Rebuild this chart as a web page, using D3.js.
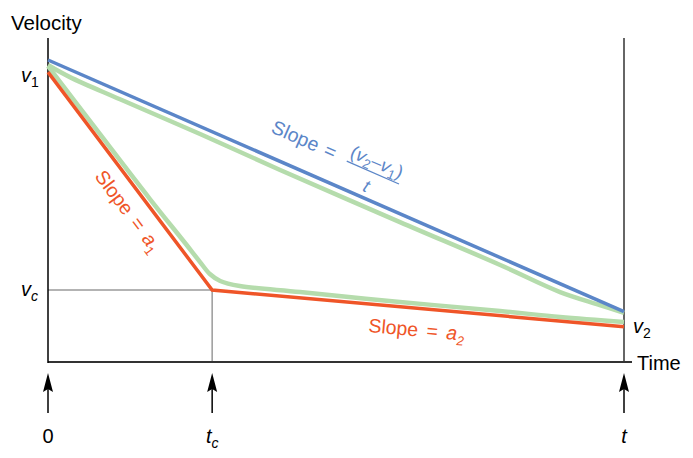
<!DOCTYPE html>
<html><head><meta charset="utf-8">
<script src="https://cdn.jsdelivr.net/npm/d3@7"></script>
<style>body{margin:0;background:#fff}svg{display:block}text{font-family:"Liberation Sans",Arial,sans-serif}</style>
</head><body><svg id="c" width="693" height="458"></svg>
<script>
// ---- data (time in arbitrary units 0..10, velocity 0..30) ----
const timeMarks = [0, 2.85, 10];            // 0, t_c, t
const timeLabels = ["0", "t_c", "t"];
const blueT = [0, 10];
const blueV = [30, 5.0];                    // v1 -> v2 (average slope)
const redT = [0, 2.85, 10];
const redV = [28.8, 7.15, 3.5];             // slope a1 then slope a2
const greenUpperT = [0, 0.38, 1.25, 2.64, 4.03, 6.11, 7.85, 8.89, 9.58, 10];
const greenUpperV = [29.5, 28.3, 26.1, 22.65, 19.07, 13.9, 9.64, 6.95, 5.66, 4.87];
const greenLowerT = [0, 0.90, 1.77, 2.38, 2.64, 2.81, 2.99, 3.33, 4.375, 6.11, 7.85, 8.89, 10];
const greenLowerV = [29.4, 22.65, 16.19, 11.82, 9.93, 8.74, 8.05, 7.55, 6.95, 5.96, 5.07, 4.47, 3.97];
const vc = 7.15;

const svg = d3.select("#c");
const x = d3.scaleLinear().domain([0, 10]).range([48, 624]);
const y = d3.scaleLinear().domain([0, 30]).range([362, 60]);
const yTop = 38;

const BLUE = "#5b86c8", RED = "#ef5528", GREEN = "#b5dcac";

// guides
svg.append("line").attr("x1", x(0)).attr("x2", x(timeMarks[1])).attr("y1", y(vc)).attr("y2", y(vc))
  .attr("stroke", "#9a9a9a").attr("stroke-width", 1.5);
svg.append("line").attr("x1", x(timeMarks[1])).attr("x2", x(timeMarks[1])).attr("y1", y(vc)).attr("y2", y(0))
  .attr("stroke", "#9a9a9a").attr("stroke-width", 1.5);

// axes
svg.append("line").attr("x1", x(10)).attr("x2", x(10)).attr("y1", yTop).attr("y2", y(0))
  .attr("stroke", "#333").attr("stroke-width", 1.5);
svg.append("line").attr("x1", x(0)).attr("x2", x(10) + 8).attr("y1", y(0)).attr("y2", y(0))
  .attr("stroke", "#333").attr("stroke-width", 2);
svg.append("line").attr("x1", x(0)).attr("x2", x(0)).attr("y1", yTop).attr("y2", y(0) + 1)
  .attr("stroke", "#000").attr("stroke-width", 1.5);

const line = d3.line().x(d => x(d[0])).y(d => y(d[1]));
const smooth = d3.line().x(d => x(d[0])).y(d => y(d[1])).curve(d3.curveCatmullRom.alpha(0.5));
const zip = (a, b) => a.map((v, i) => [v, b[i]]);

svg.append("path").attr("d", smooth(zip(greenUpperT, greenUpperV))).attr("fill", "none")
  .attr("stroke", GREEN).attr("stroke-width", 4.5);
svg.append("path").attr("d", smooth(zip(greenLowerT, greenLowerV))).attr("fill", "none")
  .attr("stroke", GREEN).attr("stroke-width", 4.5);
svg.append("path").attr("d", line(zip(blueT, blueV))).attr("fill", "none")
  .attr("stroke", BLUE).attr("stroke-width", 3.5);
svg.append("path").attr("d", line(zip(redT, redV))).attr("fill", "none")
  .attr("stroke", RED).attr("stroke-width", 3.5).attr("stroke-linejoin", "miter");

// arrows below axis
timeMarks.forEach((t, i) => {
  const g = svg.append("g").attr("transform", `translate(${x(t)},0)`);
  g.append("line").attr("x1", 0).attr("x2", 0).attr("y1", 413).attr("y2", 385).attr("stroke", "#000").attr("stroke-width", 1.5);
  g.append("path").attr("d", "M0,373 L-5,392 L0,389 L5,392 Z").attr("fill", "#000");
  const tx = g.append("text").attr("x", 0).attr("y", 443).attr("text-anchor", "middle").attr("font-size", 20);
  const lab = timeLabels[i];
  if (lab.includes("_")) {
    const [b, s] = lab.split("_");
    tx.append("tspan").attr("font-style", "italic").text(b);
    tx.append("tspan").attr("font-style", "italic").attr("font-size", 14).attr("dy", 5).text(s);
  } else {
    tx.attr("font-style", lab === "0" ? "normal" : "italic").text(lab);
  }
});

// axis titles
svg.append("text").attr("x", 11).attr("y", 30).attr("font-size", 20.5).text("Velocity");
svg.append("text").attr("x", 637).attr("y", 370).attr("font-size", 20).text("Time");

function vlabel(px, py, sub) {
  const t = svg.append("text").attr("x", px).attr("y", py).attr("font-size", 20).attr("font-style", "italic");
  t.append("tspan").text("v");
  t.append("tspan").attr("font-size", 14).attr("dy", 5).attr("font-style", sub === "c" ? "italic" : "normal").text(sub);
}
vlabel(21, 82, "1");
vlabel(21, 296, "c");
vlabel(633, 333, "2");

// blue slope label
const ang = Math.atan2(y(blueV[1]) - y(blueV[0]), x(10) - x(0)) * 180 / Math.PI;
const bl = svg.append("g").attr("transform", `translate(270,132) rotate(${ang})`).attr("fill", BLUE);
bl.append("text").attr("x", 0).attr("y", 0).attr("font-size", 19.5).attr("word-spacing", 2).text("Slope =");
const num = bl.append("text").attr("x", 110).attr("y", -9).attr("text-anchor", "middle").attr("font-size", 18.5).attr("font-style", "italic");
num.append("tspan").attr("font-style", "normal").text("(");
num.append("tspan").text("v");
num.append("tspan").attr("font-size", 13).attr("dy", 4).attr("font-style", "normal").text("2");
num.append("tspan").attr("dy", -4).attr("font-style", "normal").text("\u2013");
num.append("tspan").text("v");
num.append("tspan").attr("font-size", 13).attr("dy", 4).attr("font-style", "normal").text("1");
num.append("tspan").attr("dy", -4).attr("font-style", "normal").text(")");
bl.append("line").attr("x1", 82).attr("x2", 139).attr("y1", -4).attr("y2", -4).attr("stroke", BLUE).attr("stroke-width", 1.3);
bl.append("text").attr("x", 110).attr("y", 17).attr("text-anchor", "middle").attr("font-size", 18).attr("font-style", "italic").text("t");

// red slope a1 label
const angR = Math.atan2(y(redV[1]) - y(redV[0]), x(redT[1]) - x(redT[0])) * 180 / Math.PI;
const r1 = svg.append("text").attr("transform", `translate(123,215) rotate(${angR})`).attr("text-anchor", "middle")
  .attr("font-size", 19.5).attr("fill", RED).attr("word-spacing", 3);
r1.append("tspan").text("Slope = ");
r1.append("tspan").attr("font-style", "italic").text("a");
r1.append("tspan").attr("font-size", 13).attr("dy", 5).text("1");

// red slope a2 label
const angR2 = Math.atan2(y(redV[2]) - y(redV[1]), x(redT[2]) - x(redT[1])) * 180 / Math.PI;
const r2 = svg.append("text").attr("transform", `translate(368,332) rotate(${angR2})`)
  .attr("font-size", 19.5).attr("fill", RED).attr("word-spacing", 3);
r2.append("tspan").text("Slope = ");
r2.append("tspan").attr("font-style", "italic").text("a");
r2.append("tspan").attr("font-size", 13).attr("dy", 5).attr("font-style", "italic").text("2");
</script></body></html>
